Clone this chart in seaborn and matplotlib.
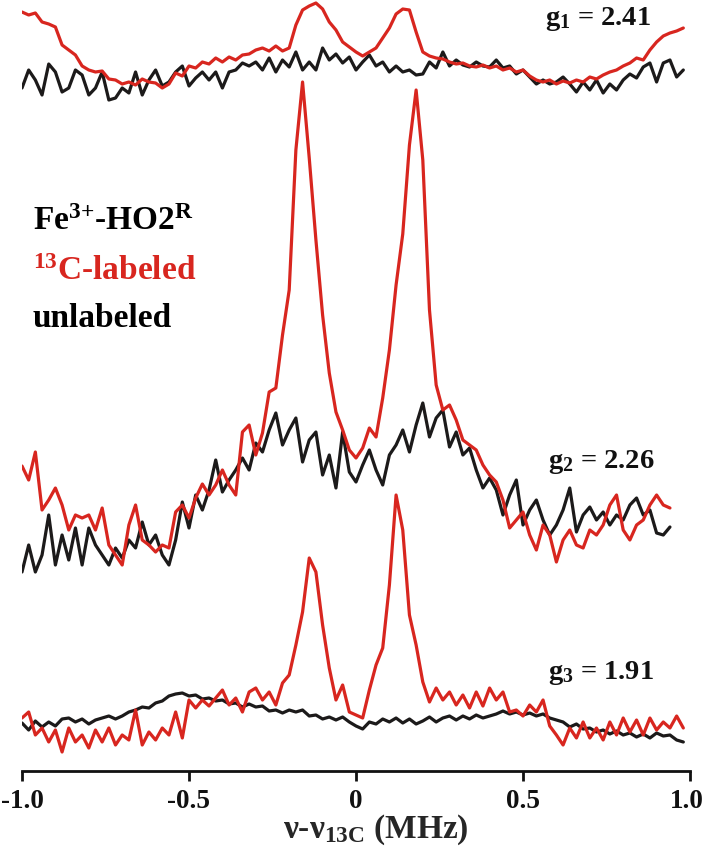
import numpy as np
import pandas as pd
import matplotlib
matplotlib.use('Agg')
import matplotlib.pyplot as plt
import matplotlib.transforms as mtransforms
import seaborn as sns

# ENDOR traces (arbitrary intensity units)
# g1 = 2.41, frequency grid -1.00 .. 0.98 MHz
g1_labeled = [88, 85, 87, 78, 76, 73, 55, 50, 45, 34,
              30, 28, 29, 21, 20, 16, 18, 15, 21, 18,
              17, 12, 16, 27, 24, 34, 32, 38, 36, 42,
              38, 43, 40, 45, 46, 50, 52, 49, 54, 49,
              52, 75, 90, 94, 97, 91, 78, 70, 58, 53,
              48, 44, 48, 52, 62, 72, 86, 91, 90, 68,
              48, 44, 42, 41, 38, 36, 37, 34, 33, 35,
              32, 34, 30, 32, 28, 30, 24, 20, 18, 20,
              16, 19, 17, 20, 18, 23, 21, 25, 28, 30,
              34, 37, 42, 40, 50, 58, 64, 67, 69, 72]
g1_unlabeled = [12, 30, 20, 5, 36, 28, 8, 12, 30, 25,
                5, 12, 28, 0, 2, 12, 7, 28, 5, 20,
                30, 14, 18, 28, 34, 14, 22, 28, 20, 28,
                12, 28, 30, 37, 34, 38, 30, 42, 28, 40,
                33, 48, 30, 38, 30, 52, 40, 46, 37, 43,
                30, 38, 45, 34, 38, 28, 34, 28, 30, 25,
                26, 38, 32, 48, 34, 40, 35, 33, 38, 34,
                33, 40, 32, 34, 26, 30, 23, 16, 20, 16,
                18, 23, 16, 8, 18, 10, 20, 7, 16, 10,
                20, 26, 22, 33, 37, 18, 37, 40, 23, 30]

# g2 = 2.26, frequency grid -1.00 .. 0.94 MHz
g2_labeled = [114, 100, 128, 70, 80, 92, 75, 50, 65, 62,
              65, 50, 72, 35, 25, 15, 55, 75, 40, 35,
              28, 35, 32, 68, 75, 62, 82, 96, 85, 95,
              110, 95, 85, 148, 155, 125, 147, 188, 192, 245,
              290, 430, 498, 422, 340, 265, 207, 168, 150, 130,
              122, 132, 152, 143, 182, 230, 295, 346, 435, 490,
              420, 270, 195, 170, 175, 160, 140, 135, 130, 115,
              105, 98, 80, 52, 60, 68, 45, 30, 55, 45,
              18, 40, 50, 35, 32, 50, 45, 55, 75, 85,
              50, 40, 55, 60, 75, 85, 75, 72]
g2_unlabeled = [8, 35, 8, 25, 65, 15, 45, 20, 52, 15,
                52, 35, 25, 15, 32, 22, 40, 32, 58, 35,
                45, 25, 15, 40, 78, 52, 85, 70, 90, 120,
                88, 100, 110, 122, 110, 137, 128, 150, 167, 135,
                150, 162, 118, 140, 148, 105, 125, 92, 148, 108,
                98, 115, 130, 110, 95, 125, 135, 150, 128, 155,
                177, 143, 162, 170, 133, 148, 125, 132, 110, 92,
                102, 90, 65, 85, 100, 55, 70, 80, 60, 45,
                55, 70, 92, 48, 65, 73, 60, 68, 55, 65,
                60, 75, 82, 65, 70, 47, 45, 53]

# g3 = 1.91, frequency grid -1.00 .. 0.98 MHz
g3_labeled = [42, 48, 25, 32, 18, 30, 8, 32, 18, 25,
              12, 30, 18, 32, 15, 25, 20, 50, 15, 28,
              20, 32, 25, 48, 22, 60, 52, 60, 54, 62,
              70, 55, 62, 48, 68, 72, 60, 68, 55, 77,
              85, 115, 148, 202, 188, 135, 92, 60, 75, 48,
              45, 42, 70, 95, 112, 175, 265, 230, 145, 115,
              78, 58, 72, 60, 68, 55, 65, 52, 68, 54,
              72, 60, 68, 48, 50, 44, 55, 48, 60, 34,
              25, 15, 32, 22, 38, 22, 32, 20, 38, 25,
              42, 28, 40, 25, 42, 30, 38, 32, 44, 32]
g3_unlabeled = [37, 30, 39, 33, 38, 34, 41, 42, 38, 41,
                36, 40, 42, 44, 41, 44, 48, 50, 53, 52,
                57, 59, 64, 66, 67, 64, 65, 61, 62, 59,
                60, 56, 57, 53, 56, 53, 54, 49, 50, 47,
                50, 48, 50, 44, 45, 41, 43, 40, 43, 38,
                34, 31, 38, 36, 41, 38, 42, 37, 41, 36,
                39, 43, 38, 42, 44, 40, 44, 41, 45, 42,
                44, 46, 49, 46, 48, 45, 47, 44, 46, 42,
                40, 38, 33, 36, 31, 32, 28, 30, 26, 29,
                25, 27, 23, 26, 22, 27, 24, 25, 20, 18]

g_labels = ['$g_1$ = 2.41', '$g_2$ = 2.26', '$g_3$ = 1.91']
offsets = [668, 188, 8]   # vertical stacking of the three pairs
ends = [0.98, 0.94, 0.98]
xticks = [-1.0, -0.5, 0, 0.5, 1.0]
xticklabels = ['-1.0', '-0.5', '0', '0.5', '1.0']

RED = '#d8261f'
BLACK = '#1c1a1a'

sns.set_style('white')
plt.rcParams['font.family'] = ['Liberation Serif', 'DejaVu Serif']
plt.rcParams['font.weight'] = 'bold'
plt.rcParams['mathtext.fontset'] = 'custom'
plt.rcParams['mathtext.rm'] = 'Liberation Serif'
plt.rcParams['mathtext.bf'] = 'Liberation Serif:bold'
plt.rcParams['mathtext.it'] = 'Liberation Serif:bold'
plt.rcParams['mathtext.default'] = 'bf'

rows = []
pairs = [(g1_labeled, g1_unlabeled), (g2_labeled, g2_unlabeled), (g3_labeled, g3_unlabeled)]
for i, (lab, unl) in enumerate(pairs):
    for name, vals in (('unlabeled', unl), ('labeled', lab)):
        freq = np.linspace(-1.0, ends[i], len(vals))
        for f, v in zip(freq, vals):
            rows.append({'g': i, 'sample': name, 'freq': f, 'signal': v + offsets[i]})
df = pd.DataFrame(rows)

fig = plt.figure(figsize=(7.04, 8.49), dpi=100)
ax = fig.add_axes([22 / 704, 78.3 / 849, 668 / 704, 770.7 / 849])

for i in range(3):
    for name, col in (('unlabeled', BLACK), ('labeled', RED)):
        sub = df[(df['g'] == i) & (df['sample'] == name)]
        sns.lineplot(data=sub, x='freq', y='signal', color=col, linewidth=2.3,
                     ax=ax, legend=False)

ax.set_xlim(-1.0, 1.0)
ax.set_ylim(-2.7, 768)
for s in ['top', 'left', 'right']:
    ax.spines[s].set_visible(False)
ax.spines['bottom'].set_linewidth(2)
ax.spines['bottom'].set_color('#111111')
ax.set_yticks([])
ax.set_ylabel('')
ax.set_xticks(xticks)
ax.set_xticklabels(xticklabels, fontsize=19.5, fontweight='bold')
ax.tick_params(axis='x', bottom=True, direction='out', length=7, width=2, pad=6,
               colors='#111111')
# keep the last tick label inside the canvas, like the original
last = ax.get_xticklabels()[-1]
last.set_transform(last.get_transform() + mtransforms.ScaledTranslation(-3 / 100, 0, fig.dpi_scale_trans))
ax.set_xlabel(r'$\mathrm{\nu}$-$\mathrm{\nu}_{13C}$ (MHz)', fontsize=24, fontweight='bold')
ax.xaxis.set_label_coords(0.53, -0.054)

# g-value annotations
g_pos = [(545, 25), (548, 468), (548, 679)]
for lbl, (px, py) in zip(g_labels, g_pos):
    fig.text(px / 704, 1 - py / 849, lbl, fontsize=20.5, fontweight='bold',
             ha='left', va='baseline', color='#111111')

# sample legend
fig.text(33 / 704, 1 - 230 / 849, r'Fe$^{3{+}}$-HO2$^{\mathrm{R}}$', fontsize=24,
         fontweight='bold', va='baseline', color='black')
fig.text(33 / 704, 1 - 280 / 849, r'$^{13}$C-labeled', fontsize=24,
         fontweight='bold', va='baseline', color=RED)
fig.text(33 / 704, 1 - 327 / 849, 'unlabeled', fontsize=24,
         fontweight='bold', va='baseline', color='black')

fig.savefig('out.png', dpi=100, facecolor='white')
